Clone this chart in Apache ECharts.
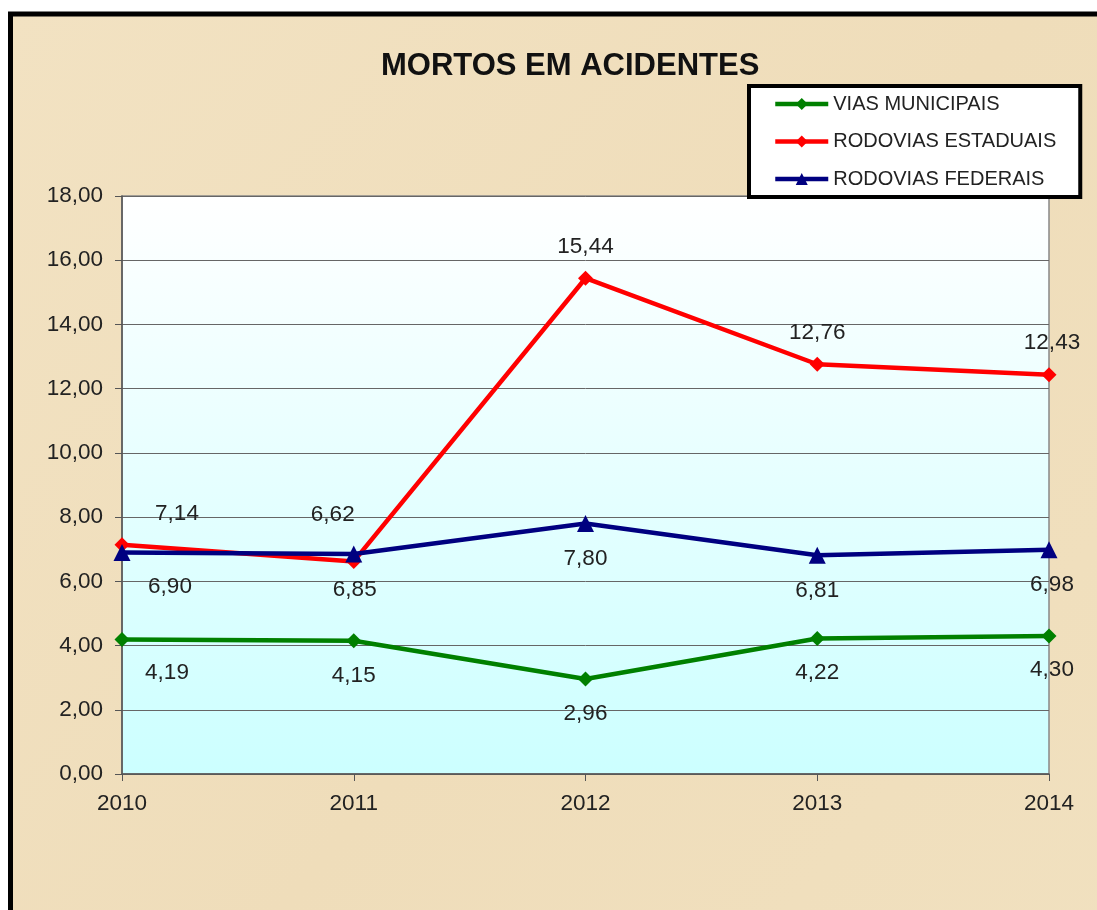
<!DOCTYPE html>
<html><head><meta charset="utf-8">
<script src="https://cdn.jsdelivr.net/npm/echarts@6/dist/echarts.min.js"></script>
<style>html,body{margin:0;padding:0;background:#fff}#c{width:1097px;height:910px}</style>
</head><body><div id="c"></div>
<script>
const categories = ['2010','2011','2012','2013','2014'];
const viasMunicipais = [4.19, 4.15, 2.96, 4.22, 4.30];
const rodoviasEstaduais = [7.14, 6.62, 15.44, 12.76, 12.43];
const rodoviasFederais = [6.90, 6.85, 7.80, 6.81, 6.98];
const seriesNames = ['VIAS MUNICIPAIS', 'RODOVIAS ESTADUAIS', 'RODOVIAS FEDERAIS'];
const titleText = 'MORTOS EM ACIDENTES';

// label placement (style only)
const offGreen = [[45,33],[0,35],[0,35],[0,34],[3,34]];
const offRed = [[55,-31],[-21,-47],[0,-31],[0,-31],[3,-32]];
const offBlue = [[48,34],[1,36],[0,35],[0,35],[3,35]];

const fmt = v => Number(v).toFixed(2).replace('.', ',');
const FONT = '"Liberation Sans", Arial, sans-serif';

function items(vals, offs) {
  return vals.map((v, i) => ({ value: v, label: { position: 'inside', offset: offs[i] } }));
}
function mk(name, vals, offs, color, symbol, size) {
  return {
    name, type: 'line', data: items(vals, offs),
    symbol, symbolSize: size, showSymbol: true,
    lineStyle: { color, width: 4.5 }, itemStyle: { color },
    label: { show: true, formatter: p => fmt(p.value), color: '#222', fontSize: 22.5, fontFamily: FONT },
    emphasis: { disabled: true }, animation: false
  };
}

const chart = echarts.init(document.getElementById('c'));
chart.setOption({
  backgroundColor: '#ffffff',
  animation: false,
  graphic: [{
    type: 'rect', z: -10, silent: true,
    shape: { x: 10.5, y: 14, width: 1200, height: 1000 },
    style: {
      fill: { type: 'linear', x: 0, y: 0, x2: 1, y2: 1, colorStops: [
        { offset: 0, color: '#F2E2C2' }, { offset: 0.5, color: '#EFDDBA' }, { offset: 1, color: '#F1E1C0' }] },
      stroke: '#000', lineWidth: 5
    }
  }],
  title: {
    text: titleText, left: 376, top: 46,
    textStyle: { fontSize: 31, fontWeight: 'bold', color: '#111', fontFamily: FONT }
  },
  legend: {
    orient: 'vertical', left: 749, top: 86,
    data: seriesNames,
    backgroundColor: '#ffffff', borderColor: '#000', borderWidth: 4,
    padding: [8, 24, 8, 24],
    itemWidth: 53, itemHeight: 15, itemGap: 17.5,
    lineStyle: { width: 4.5 },
    textStyle: { fontSize: 20, color: '#222', fontFamily: FONT }
  },
  grid: {
    left: 122, right: 48, top: 196, bottom: 136, containLabel: false, show: true,
    borderColor: '#888', borderWidth: 1.5,
    backgroundColor: { type: 'linear', x: 0, y: 0, x2: 0, y2: 1, colorStops: [
      { offset: 0, color: '#FFFFFF' }, { offset: 1, color: '#CCFFFF' }] }
  },
  xAxis: {
    type: 'category', data: categories, boundaryGap: false,
    axisLine: { lineStyle: { color: '#555', width: 1.5 } },
    axisTick: { show: true, length: 7, lineStyle: { color: '#555' } },
    axisLabel: { fontSize: 22.5, color: '#222', fontFamily: FONT, margin: 18 },
    splitLine: { show: false }
  },
  yAxis: {
    type: 'value', min: 0, max: 18, interval: 2,
    axisLine: { show: true, lineStyle: { color: '#555', width: 1.5 } },
    axisTick: { show: true, length: 7, lineStyle: { color: '#555' } },
    axisLabel: { fontSize: 22.5, color: '#222', fontFamily: FONT, margin: 19, formatter: v => fmt(v) },
    splitLine: { show: true, lineStyle: { color: '#666', width: 1 } }
  },
  series: [
    mk(seriesNames[0], viasMunicipais, offGreen, '#008000', 'diamond', 15),
    mk(seriesNames[1], rodoviasEstaduais, offRed, '#FF0000', 'diamond', 15),
    mk(seriesNames[2], rodoviasFederais, offBlue, '#000080', 'triangle', 17)
  ]
});
</script></body></html>
